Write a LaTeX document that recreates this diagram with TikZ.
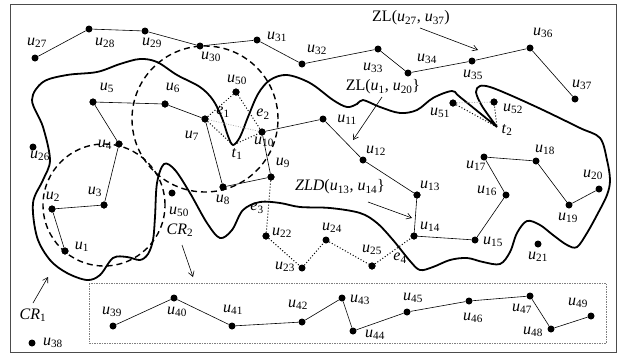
\documentclass[tikz,border=0pt]{standalone}
\usepackage{fontspec}
\setmainfont{Liberation Serif}
\usetikzlibrary{arrows.meta}
\newcommand{\uu}[1]{\textit{u}\textsubscript{#1}}
\newcommand{\iv}[2]{\textit{#1}\textsubscript{#2}}
\begin{document}
\begin{tikzpicture}[x=1pt,y=-1pt,
  dot/.style={circle,fill=black,inner sep=0pt,minimum size=7pt},
  lbl/.style={inner sep=0pt,font=\fontsize{16}{18}\selectfont},
  edge/.style={line width=0.6pt},
  dedge/.style={line width=1pt,dash pattern=on 1pt off 2pt},
  gedge/.style={line width=0.8pt,dash pattern=on 1pt off 1.5pt,gray!60},
  region/.style={line width=1.8pt},
  rad/.style={line width=1.4pt,dash pattern=on 6pt off 4pt},
  arr/.style={line width=0.6pt,-{Straight Barb[length=5pt,width=6pt]}}]
\useasboundingbox (0,0) rectangle (622,359);
\draw[gray!60!black,line width=0.8pt] (10,4) rectangle (616,352);
\draw[gray,line width=0.6pt,dash pattern=on 1.5pt off 1pt] (89,283) rectangle (606,343);

% region boundary CR1
\draw[region] plot[smooth,tension=0.55] coordinates {
 (497,127) (482,106) (476,92) (480,86) (490,87) (510,95) (543,110) (580,128)
 (600,138) (607,160) (610,180) (607,195) (597,215) (587,233) (577,247) (567,245)
 (553,235) (540,225) (527,221) (517,233) (510,252) (500,264) (483,262) (467,258)
 (450,260) (433,267) (420,270) (410,261) (393,240) (377,223) (360,213) (330,208)
 (300,207) (280,203) (260,202) (243,210) (232,230) (220,238) (207,223) (190,193)
 (175,170) (164,164) (157,183) (155,217) (153,240) (148,254) (140,260) (127,257)
 (113,258) (100,275) (87,280) (67,273) (50,260) (37,237) (33,203) (43,180)
 (50,160) (43,127) (32,100) (43,82) (67,75) (97,72) (120,64) (140,59) (157,62)
 (177,75) (200,87) (213,100) (222,118) (228,136) (233,145) (240,137) (248,117)
 (258,94) (270,80) (287,75) (310,83) (333,100) (347,107) (357,104) (363,100)
 (380,107) (400,113) (417,110) (433,98) (452,91) (460,97) (497,127)};

% nodes
\node[dot] (u1) at (65,251) {};
\node[dot] (u2) at (52,209) {};
\node[dot] (u3) at (104,205) {};
\node[dot] (u4) at (119,144) {};
\node[dot] (u5) at (93,102) {};
\node[dot] (u6) at (165,104) {};
\node[dot] (u7) at (205,119) {};
\node[dot] (u8) at (223,187) {};
\node[dot] (u9) at (271,177) {};
\node[dot] (u10) at (262,132) {};
\node[dot] (u11) at (323,119) {};
\node[dot] (u12) at (363,160) {};
\node[dot] (u13) at (417,195) {};
\node[dot] (u14) at (414,236) {};
\node[dot] (u15) at (475,240) {};
\node[dot] (u16) at (506,195) {};
\node[dot] (u17) at (484,157) {};
\node[dot] (u18) at (536,161) {};
\node[dot] (u19) at (569,205) {};
\node[dot] (u20) at (599,189) {};
\node[dot] (u21) at (538,244) {};
\node[dot] (u22) at (266,236) {};
\node[dot] (u23) at (302,268) {};
\node[dot] (u24) at (326,240) {};
\node[dot] (u25) at (372,266) {};
\node[dot] (u26) at (33,147) {};
\node[dot] (u27) at (35,58) {};
\node[dot] (u28) at (89,29) {};
\node[dot] (u29) at (145,31) {};
\node[dot] (u30) at (200,46) {};
\node[dot] (u31) at (257,40) {};
\node[dot] (u32) at (302,64) {};
\node[dot] (u33) at (378,49) {};
\node[dot] (u34) at (408,73) {};
\node[dot] (u35) at (472,61) {};
\node[dot] (u36) at (530,48) {};
\node[dot] (u37) at (575,99) {};
\node[dot] (u38) at (32,343) {};
\node[dot] (u39) at (113,326) {};
\node[dot] (u40) at (174,298) {};
\node[dot] (u41) at (232,326) {};
\node[dot] (u42) at (302,322) {};
\node[dot] (u43) at (342,298) {};
\node[dot] (u44) at (353,331) {};
\node[dot] (u45) at (407,312) {};
\node[dot] (u46) at (469,301) {};
\node[dot] (u47) at (530,296) {};
\node[dot] (u48) at (551,329) {};
\node[dot] (u49) at (591,316) {};
\node[dot] (u50a) at (236,92) {};
\node[dot] (u50b) at (172,193) {};
\node[dot] (u51) at (453,103) {};
\node[dot] (u52) at (494,102) {};
\coordinate (t1) at (233,145);
\coordinate (t2) at (497,127);

% dashed circles
\draw[rad] (u7.center) circle[radius=73pt];
\draw[rad] (u3.center) circle[radius=61pt];

% solid edges
\draw[edge] (u27)--(u28)--(u29)--(u30)--(u31)--(u32)--(u33)--(u34)--(u35)--(u36)--(u37);
\draw[edge] (u1)--(u2)--(u3)--(u4)--(u5)--(u6)--(u7)--(u8)--(u9)--(u10)--(u11)--(u12)--(u13)--(u14)--(u15)--(u16)--(u17)--(u18)--(u19)--(u20);
\draw[edge] (u39)--(u40)--(u41)--(u42)--(u43)--(u44)--(u45)--(u46)--(u47)--(u48)--(u49);
% dotted edges
\draw[dedge] (u9)--(u22)--(u23)--(u24)--(u25)--(u14);
\draw[dedge] (u7)--(u50a)--(u10);
\draw[dedge] (u7)--(t1)--(u10);
\draw[gedge] (u7)--(u10);
\draw[dedge] (u51)--(t2)--(u52);
\draw[gedge] (u51)--(u52);
\foreach \n in {u1,u2,u3,u4,u5,u6,u7,u8,u9,u10,u13,u14,u22,u25,u50a,u51,u52}{\node[dot] at (\n) {};}

% labels
\node[lbl] (l1) at (82,247) {\uu{1}};
\node[lbl] (l2) at (53,197) {\uu{2}};
\node[lbl] (l3) at (95,192) {\uu{3}};
\node[lbl] (l4) at (105,145) {\uu{4}};
\node[lbl] (l5) at (107,88) {\uu{5}};
\node[lbl] (l6) at (173,88) {\uu{6}};
\node[lbl] (l7) at (192,136) {\uu{7}};
\node[lbl] (l8) at (223,200) {\uu{8}};
\node[lbl] (l9) at (283,163) {\uu{9}};
\node[lbl] (l10) at (264,142) {\uu{10}};
\node[lbl] (l11) at (347,120) {\uu{11}};
\node[lbl] (l12) at (376,151) {\uu{12}};
\node[lbl] (l13) at (430,186) {\uu{13}};
\node[lbl] (l14) at (430,227) {\uu{14}};
\node[lbl] (l15) at (493,242) {\uu{15}};
\node[lbl] (l16) at (487,191) {\uu{16}};
\node[lbl] (l17) at (476,166) {\uu{17}};
\node[lbl] (l18) at (545,150) {\uu{18}};
\node[lbl] (l19) at (568,218) {\uu{19}};
\node[lbl] (l20) at (593,175) {\uu{20}};
\node[lbl] (l21) at (538,257) {\uu{21}};
\node[lbl] (l22) at (282,233) {\uu{22}};
\node[lbl] (l23) at (285,267) {\uu{23}};
\node[lbl] (l24) at (332,228) {\uu{24}};
\node[lbl] (l25) at (372,250) {\uu{25}};
\node[lbl] (l26) at (40,156) {\uu{26}};
\node[lbl] (l27) at (37,43) {\uu{27}};
\node[lbl] (l28) at (105,43) {\uu{28}};
\node[lbl] (l29) at (152,43) {\uu{29}};
\node[lbl] (l30) at (211,57) {\uu{30}};
\node[lbl] (l31) at (277,37) {\uu{31}};
\node[lbl] (l32) at (317,50) {\uu{32}};
\node[lbl] (l33) at (373,68) {\uu{33}};
\node[lbl] (l34) at (427,59) {\uu{34}};
\node[lbl] (l35) at (473,75) {\uu{35}};
\node[lbl] (l36) at (543,33) {\uu{36}};
\node[lbl] (l37) at (582,85) {\uu{37}};
\node[lbl] (l38) at (53,343) {\uu{38}};
\node[lbl] (l39) at (112,312) {\uu{39}};
\node[lbl] (l40) at (177,312) {\uu{40}};
\node[lbl] (l41) at (233,310) {\uu{41}};
\node[lbl] (l42) at (298,305) {\uu{42}};
\node[lbl] (l43) at (360,300) {\uu{43}};
\node[lbl] (l44) at (375,335) {\uu{44}};
\node[lbl] (l45) at (413,298) {\uu{45}};
\node[lbl] (l46) at (473,318) {\uu{46}};
\node[lbl] (l47) at (522,309) {\uu{47}};
\node[lbl] (l48) at (533,332) {\uu{48}};
\node[lbl] (l49) at (578,303) {\uu{49}};
\node[lbl] (l50a) at (237,80) {\uu{50}};
\node[lbl] (l50b) at (179,212) {\uu{50}};
\node[lbl] (l51) at (440,113) {\uu{51}};
\node[lbl] (l52) at (513,109) {\uu{52}};
\node[lbl] (le1) at (223,112) {\iv{e}{1}};
\node[lbl] (le2) at (263,114) {\iv{e}{2}};
\node[lbl] (le3) at (257,208) {\iv{e}{3}};
\node[lbl] (le4) at (400,258) {\iv{e}{4}};
\node[lbl] (lt1) at (237,154) {\iv{t}{1}};
\node[lbl] (lt2) at (507,130) {\iv{t}{2}};
\node[lbl] (lcr2) at (180,230) {\textit{CR}\textsubscript{2}};
\node[lbl] (lcr1) at (33,315) {\textit{CR}\textsubscript{1}};
\node[lbl] (lzl1) at (411,18) {ZL(\uu{27}, \uu{37})};
\node[lbl] (lzl2) at (383,87) {ZL(\uu{1}, \uu{20}\}};
\node[lbl] (lzld) at (340,187) {\textit{ZLD}(\uu{13}, \uu{14}\}};

% arrows
\coordinate (a1s) at (420,28); \coordinate (a1e) at (478,50);
\coordinate (a2s) at (382,97); \coordinate (a2e) at (353,140);
\coordinate (a3s) at (368,202); \coordinate (a3e) at (412,218);
\coordinate (a4s) at (182,245); \coordinate (a4e) at (193,277);
\coordinate (a5s) at (33,303); \coordinate (a5e) at (48,277);
\draw[arr] (a1s)--(a1e);
\draw[arr] (a2s)--(a2e);
\draw[arr] (a3s)--(a3e);
\draw[arr] (a4s)--(a4e);
\draw[arr] (a5s)--(a5e);
\end{tikzpicture}
\end{document}
